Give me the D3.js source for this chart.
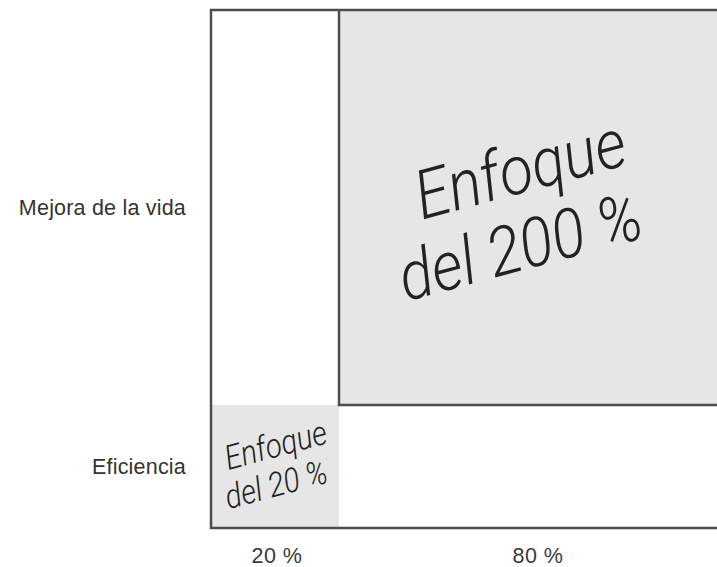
<!DOCTYPE html>
<html><head><meta charset="utf-8">
<script src="https://cdn.jsdelivr.net/npm/d3@7"></script>
<style>body{margin:0;background:#fff}svg{display:block}</style>
</head><body>
<svg id="c" width="717" height="567"></svg>
<script>
const xCategories = ["20 %", "80 %"];
const xBounds = [0, 20, 100];
const yCategories = ["Eficiencia", "Mejora de la vida"];
const yBounds = [0, 20, 100];
const cellLines = [["Enfoque", "del 20 %"], ["Enfoque", "del 200 %"]];
const cells = [
  {x0: 0, x1: 20, y0: 0, y1: 20, lines: cellLines[0], size: 34, sx: 0.87, dx: -4, dy: -1, lh: 1.12},
  {x0: 20, x1: 100, y0: 20, y1: 100, lines: cellLines[1], size: 68, sx: 0.9, dx: -18, dy: 2, lh: 1.1}
];

const svg = d3.select("#c");
const x = d3.scaleLinear().domain(xBounds).range([211, 339, 733]);
const y = d3.scaleLinear().domain(yBounds).range([528, 405, 10]);
const font = "'Liberation Sans', Arial, Helvetica, sans-serif";
const thinFont = "Roboto, 'Liberation Sans', Arial, sans-serif";

svg.selectAll("rect.cell").data(cells).enter().append("rect")
  .attr("x", d => x(d.x0)).attr("y", d => y(d.y1))
  .attr("width", d => x(d.x1) - x(d.x0)).attr("height", d => y(d.y0) - y(d.y1))
  .attr("fill", "#e6e6e6");

const big = cells[1];
svg.append("path")
  .attr("d", `M${x(big.x0)},${y(big.y1)} V${y(big.y0)} H${x(big.x1)}`)
  .attr("fill", "none").attr("stroke", "#4d4d4d").attr("stroke-width", 2.5);

svg.append("path")
  .attr("d", `M${x(100)},${y(100)} H${x(0)} V${y(0)} H${x(100)}`)
  .attr("fill", "none").attr("stroke", "#4d4d4d").attr("stroke-width", 2.5);

cells.forEach(d => {
  const cx = (x(d.x0) + Math.min(x(d.x1), 717)) / 2 + d.dx;
  const cy = (y(d.y0) + y(d.y1)) / 2 + d.dy;
  const g = svg.append("g").attr("transform", `translate(${cx},${cy}) rotate(-15) scale(${d.sx},1)`);
  g.selectAll("text").data(d.lines).enter().append("text")
    .attr("x", (t, i) => i === 0 ? d.size * 0.33 : 0)
    .attr("y", (t, i) => (i - (d.lines.length - 1) / 2) * d.size * d.lh + d.size * 0.36)
    .attr("text-anchor", "middle")
    .attr("font-family", thinFont).attr("font-style", "italic").attr("font-weight", 300)
    .attr("font-size", d.size).attr("fill", "#222")
    .text(t => t);
});

svg.selectAll("text.ylab").data(yCategories).enter().append("text")
  .attr("class", "ylab")
  .attr("x", 186)
  .attr("y", (d, i) => (y(yBounds[i]) + y(yBounds[i + 1])) / 2)
  .attr("dy", "0.35em").attr("text-anchor", "end")
  .attr("font-family", font).attr("font-size", 21.5).attr("letter-spacing", 0.2).attr("fill", "#333")
  .text(d => d);

svg.selectAll("text.xlab").data(xCategories).enter().append("text")
  .attr("class", "xlab")
  .attr("x", (d, i) => (x(xBounds[i]) + x(xBounds[i + 1])) / 2 + 2)
  .attr("y", 555).attr("dy", "0.35em").attr("text-anchor", "middle")
  .attr("font-family", font).attr("font-size", 21.5).attr("letter-spacing", 0.5).attr("fill", "#3a3a3a")
  .text(d => d);
</script>
</body></html>
